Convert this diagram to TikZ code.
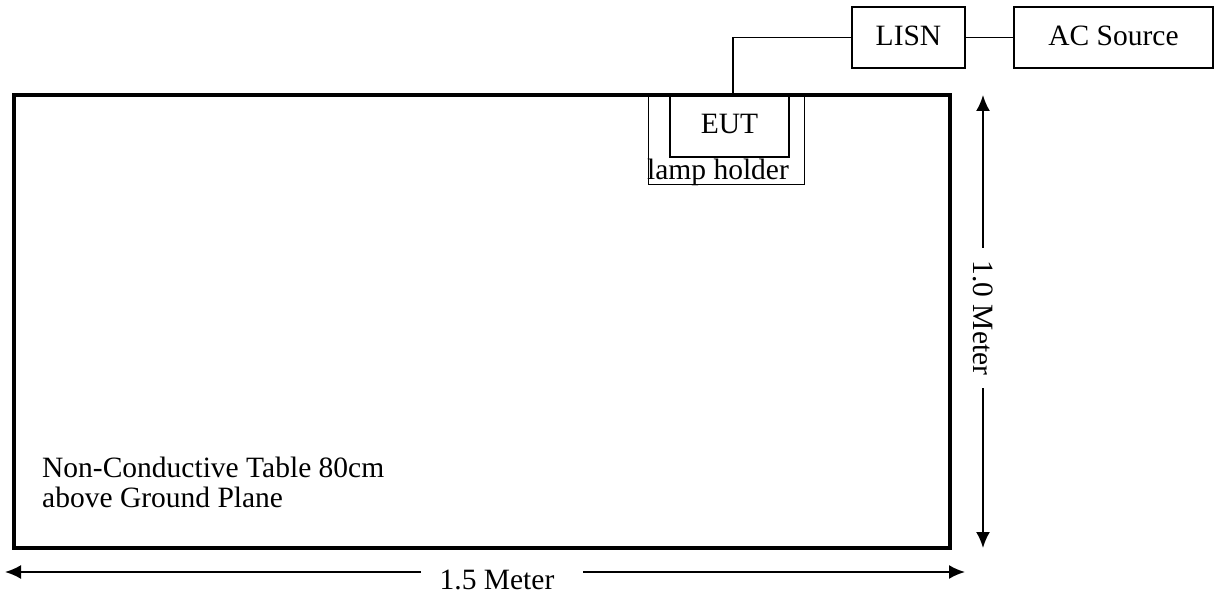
\documentclass[tikz,border=0pt]{standalone}
\usepackage{fontspec}
\setmainfont{Liberation Serif}
\usetikzlibrary{arrows.meta}
\begin{document}
\begin{tikzpicture}[x=1pt,y=-1pt,
  txt/.style={font=\fontsize{29.5}{30}\selectfont},
  box/.style={draw,rectangle,inner sep=0pt,line width=1.3pt,txt},
  wire/.style={line width=1.4pt},
  dimline/.style={line width=2pt,-{Latex[length=16pt,width=14pt]}},
  lbl/.style={txt,inner sep=0pt}]
\useasboundingbox (0,0) rectangle (1229,596);
\node[box,line width=3.5pt,minimum width=936pt,minimum height=453pt] (table) at (482,321.5) {};
\node[box,line width=0.8pt,minimum width=156pt,minimum height=89pt] (holder) at (726,139.5) {};
\node[box,minimum width=119pt,minimum height=62pt] (eut) at (729.5,126) {};
\node[lbl] (euttxt) at (729.5,124) {EUT};
\node[lbl,anchor=base] (holderlbl) at (718,180) {lamp holder};
\node[box,minimum width=113pt,minimum height=61pt] (lisn) at (908.5,37.5) {};
\node[lbl] (lisntxt) at (908.5,36) {LISN};
\node[box,minimum width=199pt,minimum height=61pt] (ac) at (1113.5,37.5) {};
\node[lbl] (actxt) at (1113.5,36) {AC Source};
\coordinate (w0) at (733,95);
\draw[wire] (w0) |- (lisn.west);
\draw[wire] (lisn.east) -- (ac.west);
\node[lbl,anchor=base west,align=left] (tabletxt) at (42,507) {Non-Conductive Table 80cm\\above Ground Plane};
% vertical dimension
\coordinate (vt) at (983,95);
\coordinate (vb) at (983,548);
\coordinate (vg1) at (983,248);
\coordinate (vg2) at (983,388);
\node[lbl,rotate=-90] (vlbl) at (983,318) {1.0 Meter};
\draw[dimline] (vg1) -- (vt);
\draw[dimline] (vg2) -- (vb);
% horizontal dimension
\coordinate (hl) at (5,572);
\coordinate (hr) at (965,572);
\coordinate (hg1) at (421,572);
\coordinate (hg2) at (583,572);
\node[lbl] (hlbl) at (497,580) {1.5 Meter};
\draw[dimline] (hg1) -- (hl);
\draw[dimline] (hg2) -- (hr);
\end{tikzpicture}
\end{document}
